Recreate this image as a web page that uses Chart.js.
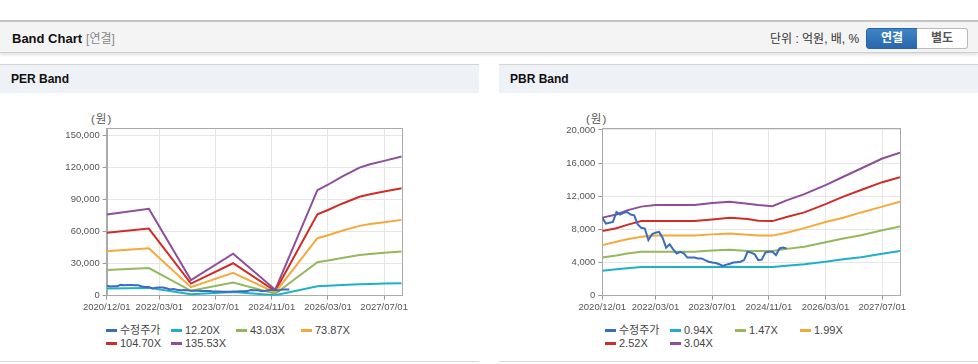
<!DOCTYPE html>
<html>
<head>
<meta charset="utf-8">
<script src="https://cdn.jsdelivr.net/npm/chart.js@4.4.1/dist/chart.umd.min.js"></script>
<style>
  body { margin: 0; width: 978px; height: 364px; position: relative; overflow: hidden; background: #fff;
         font-family: "Liberation Sans", Arial, "Noto Sans CJK KR", sans-serif; }
  .abs { position: absolute; }
  .hdr { left: 0; top: 20px; width: 978px; height: 30px; border-top: 2px solid #c4c4c4; border-bottom: 1px solid #cdcdcd;
         background: #f4f4f4; box-shadow: 0 2px 3px rgba(0,0,0,0.12); }
  .title { left: 12px; top: 0; line-height: 34px; font-size: 13px; font-weight: bold; color: #111; }
  .title span { font-weight: normal; color: #888; font-size: 12px; margin-left: 4px; }
  .unit { left: 770px; top: 0; line-height: 34px; font-size: 12px; color: #333; }
  .btn { top: 6px; width: 50px; height: 19px; line-height: 19px; text-align: center; font-size: 12px; font-weight: bold; }
  .on  { left: 866px; background: linear-gradient(#3e84c8, #2a66ab); color: #fff; border: 1px solid #2a63a6; border-radius: 3px 0 0 3px; }
  .off { left: 917px; background: #fff; color: #555; border: 1px solid #bbb; border-left: none; border-radius: 0 3px 3px 0; }
  .ph { top: 64px; width: 479px; height: 28px; border-top: 1px solid #d5d5d5; background: #eef2f7;
        font-size: 12px; font-weight: bold; line-height: 29px; color: #111; }
  .ph span { margin-left: 11px; }
  .foot { top: 361px; width: 479px; height: 1px; background: #d8d8d8; }
  .box { top: 93px; width: 479px; height: 230px; }
  .won { top: 110px; font-size: 11.5px; color: #555; letter-spacing: 1px; }
  .lg { top: 324px; height: 30px; width: 300px; font-size: 11px; color: #444; }
  .li { position: absolute; white-space: nowrap; line-height: 13px; }
  .li i { display: inline-block; width: 11px; height: 3px; vertical-align: middle; margin-right: 3px; margin-top: -2px; }
</style>
</head>
<body>
<div class="abs hdr">
  <div class="abs title">Band Chart<span>[연결]</span></div>
  <div class="abs unit">단위 : 억원, 배, %</div>
  <div class="abs btn on">연결</div>
  <div class="abs btn off">별도</div>
</div>

<div class="abs ph" style="left:0"><span>PER Band</span></div>
<div class="abs ph" style="left:499px"><span>PBR Band</span></div>

<div class="abs won" style="left:91px">(원)</div>
<div class="abs won" style="left:586px">(원)</div>

<div class="abs box" style="left:0"><canvas id="perChart"></canvas></div>
<div class="abs box" style="left:499px"><canvas id="pbrChart"></canvas></div>

<div class="abs lg" id="perLegend" style="left:106px"></div>
<div class="abs lg" id="pbrLegend" style="left:605px"></div>

<div class="abs foot" style="left:0"></div>
<div class="abs foot" style="left:499px"></div>

<script>
// x axis: months counted from 2020/12/01
const tickMonths = [0, 15, 31, 47, 63, 79];
const tickLabels = ['2020/12/01', '2022/03/01', '2023/07/01', '2024/11/01', '2026/03/01', '2027/07/01'];
const lastMonth = 84;

const perTicks = [0, 30000, 60000, 90000, 120000, 150000];
const pbrTicks = [0, 4000, 8000, 12000, 16000, 20000];

const colors = ['#3a6cc0', '#1eb0c8', '#94b85a', '#f5a93b', '#cf2d28', '#8e4e9c'];

// 수정주가, monthly from 2020/12 (won)
const priceWon = [
  9400, 8700, 8800, 8900, 10100, 9800, 10000, 10100, 9800, 9700,
  8600, 8200, 8100, 6700, 7400, 7600, 7700, 7000, 5800, 6200,
  5600, 5100, 5300, 5100, 4600, 4600, 4600, 4500, 4500, 4300,
  4100, 4000, 3950, 3800, 3600, 3750, 3850, 4000, 4050, 4100,
  4300, 5300, 5200, 5000, 4300, 4350, 5200, 5300, 5300, 4900,
  5700, 5800, 5700
];

// PER band
const perNames = ['수정주가', '12.20X', '43.03X', '73.87X', '104.70X', '135.53X'];
const perMonths = [0, 12, 24, 36, 48, 60, 63, 67, 72, 75, 79, 84];
const per1220  = [6800, 7300, 1300, 3500, 500, 8900, 9300, 10000, 10800, 11000, 11300, 11700];
const per4303  = [24100, 25800, 4600, 12400, 1800, 31300, 32800, 35300, 38000, 39000, 40000, 41200];
const per7387  = [41400, 44300, 8000, 21400, 3000, 53700, 56400, 60600, 65200, 66900, 68600, 70800];
const per10470 = [58700, 62700, 11300, 30300, 4300, 76100, 80000, 85900, 92400, 94800, 97300, 100400];
const per13553 = [75900, 81200, 14600, 39200, 5600, 98500, 103600, 111200, 119600, 122700, 125900, 129900];

// PBR band
const pbrNames = ['수정주가', '0.94X', '1.47X', '1.99X', '2.52X', '3.04X'];
const pbrMonths = [0, 4, 7, 11, 15, 26, 31, 36, 41, 44, 48, 52, 57, 63, 68, 73, 79, 84];
const pbr094 = [3000, 3200, 3300, 3450, 3450, 3450, 3450, 3500, 3450, 3450, 3450, 3600, 3800, 4100, 4400, 4650, 5050, 5400];
const pbr147 = [4600, 4850, 5100, 5300, 5300, 5300, 5450, 5550, 5400, 5400, 5400, 5650, 5900, 6450, 6900, 7300, 7900, 8350];
const pbr199 = [6100, 6500, 6800, 7100, 7250, 7250, 7400, 7500, 7350, 7250, 7250, 7600, 8150, 8900, 9400, 10050, 10750, 11350];
const pbr252 = [7800, 8150, 8550, 9000, 9000, 9000, 9200, 9400, 9250, 9050, 9000, 9500, 10050, 11050, 11950, 12750, 13700, 14300];
const pbr304 = [9420, 9800, 10300, 10750, 10950, 10950, 11200, 11350, 11100, 10950, 10800, 11500, 12250, 13350, 14350, 15350, 16550, 17250];

function pts(xs, ys) { return ys.map((y, i) => ({ x: xs[i], y: y })); }

const frame = {
  id: 'frame',
  beforeDatasetsDraw(chart) {
    const { ctx, chartArea: a } = chart;
    ctx.save();
    ctx.strokeStyle = '#aaa';
    ctx.lineWidth = 1;
    ctx.strokeRect(Math.round(a.left) + 0.5, Math.round(a.top) + 0.5,
                   Math.round(a.right - a.left), Math.round(a.bottom - a.top));
    ctx.restore();
  }
};

const tickFont = { size: 9.5, family: '"Liberation Sans", Arial, sans-serif' };

function makeChart(id, names, bands, bandMonths, yTicks, yMax, pad) {
  const series = [pts(priceWon.map((v, i) => i), priceWon)].concat(bands.map(b => pts(bandMonths, b)));
  return new Chart(document.getElementById(id), {
    type: 'line',
    data: {
      datasets: series.map((d, i) => ({
        label: names[i], data: d, borderColor: colors[i], backgroundColor: colors[i],
        borderWidth: 2, pointRadius: 0, tension: 0, fill: false
      }))
    },
    options: {
      responsive: true, maintainAspectRatio: false, animation: false,
      layout: { padding: pad },
      plugins: { legend: { display: false }, tooltip: { enabled: false } },
      scales: {
        x: {
          type: 'linear', min: 0, max: lastMonth,
          afterBuildTicks: s => { s.ticks = tickMonths.map(v => ({ value: v })); },
          afterFit: s => { s.height = 22; },
          ticks: {
            autoSkip: false, maxRotation: 0, padding: 2, color: '#555', font: tickFont,
            callback: (v) => tickLabels[tickMonths.indexOf(v)]
          },
          grid: { color: '#e6e6e6', tickColor: '#999', tickLength: 4 },
          border: { color: '#aaa' }
        },
        y: {
          min: 0, max: yMax,
          afterBuildTicks: s => { s.ticks = yTicks.map(v => ({ value: v })); },
          afterFit: s => { s.width = 60; },
          ticks: {
            padding: 3, color: '#555', font: tickFont,
            callback: v => v.toLocaleString('en-US')
          },
          grid: { color: '#e6e6e6', tickColor: '#999', tickLength: 4 },
          border: { color: '#aaa' }
        }
      }
    },
    plugins: [frame]
  });
}

function legend(id, names) {
  document.getElementById(id).innerHTML = names.map((n, i) =>
    `<span class="li" style="left:${(i % 4) * 65}px;top:${Math.floor(i / 4) * 13}px"><i style="background:${colors[i]}"></i>${n}</span>`
  ).join('');
}

makeChart('perChart', perNames, [per1220, per4303, per7387, per10470, per13553], perMonths, perTicks, 156300,
  { left: 46.7, right: 77.3, top: 35.3, bottom: 5.3 });
makeChart('pbrChart', pbrNames, [pbr094, pbr147, pbr199, pbr252, pbr304], pbrMonths, pbrTicks, 20200,
  { left: 43.3, right: 78, top: 35.3, bottom: 5.3 });
legend('perLegend', perNames);
legend('pbrLegend', pbrNames);
</script>
</body>
</html>
